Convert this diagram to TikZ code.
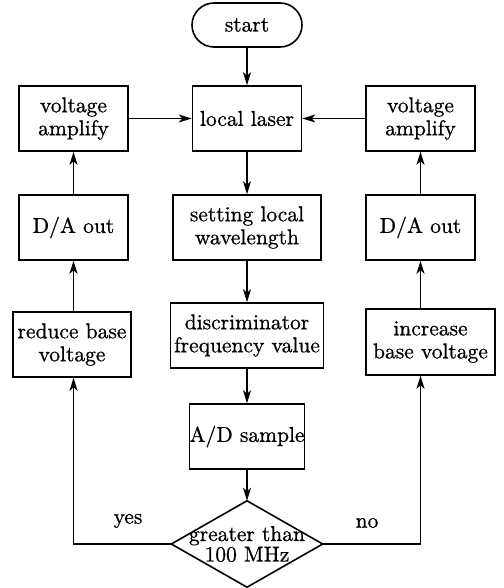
\documentclass[tikz,border=0pt]{standalone}
\usepackage{fontspec}
\newfontfamily\lmten[Extension=.otf,FakeBold=0.8]{lmroman10-regular}
\usetikzlibrary{arrows.meta,calc}
\begin{document}
\begin{tikzpicture}[x=1pt,y=-1pt,
  every node/.style={font=\lmten\fontsize{21.5}{23}\selectfont, align=center, inner sep=0pt},
  box/.style={draw, line width=1.6pt, minimum height=65pt},
  arr/.style={line width=1.5pt, -{Stealth[length=13pt,width=8pt,inset=3.5pt]}},
  ln/.style={line width=1.6pt}
]
\useasboundingbox (0,0) rectangle (503,588);
\node[draw, line width=1.6pt, rounded corners=22pt, minimum width=110pt, minimum height=44pt] (start) at (247,25) {start};
\node[box, minimum width=109pt] (laser) at (247,118.5) {local laser};
\node[box, minimum width=109pt] (lva) at (73.5,118.5) {voltage\\amplify};
\node[box, minimum width=109pt] (rva) at (420.5,118.5) {voltage\\amplify};
\node[box, minimum width=109pt] (lda) at (73.5,227.5) {D/A out};
\node[box, minimum width=148pt] (setw) at (247,227.5) {setting local\\wavelength};
\node[box, minimum width=109pt] (rda) at (420.5,227.5) {D/A out};
\node[box, minimum width=118pt] (reduce) at (72,344.5) {reduce base\\voltage};
\node[box, minimum width=153pt] (disc) at (247,335.5) {discriminator\\frequency value};
\node[box, minimum width=129pt, minimum height=66pt] (incr) at (430.5,342) {increase\\base voltage};
\node[box, minimum width=114pt] (adc) at (247,436.5) {A/D sample};
\node[minimum width=151pt, minimum height=86pt, font=\lmten\fontsize{21.5}{20.5}\selectfont] (dec) at (247,544) {greater than\\100 MHz};
\draw[ln] (dec.north) -- (dec.east) -- (dec.south) -- (dec.west) -- cycle;
\node (yes) at (128,521) {yes};
\node (no) at (367,523) {no};
\draw[arr] (start) -- (laser);
\draw[arr] (lva) -- (laser);
\draw[arr] (rva) -- (laser);
\draw[arr] (laser) -- (setw);
\draw[arr] (setw) -- (disc);
\draw[arr] (disc) -- (adc);
\draw[arr] (adc) -- (dec.north);
\draw[arr] (lda) -- (lva);
\draw[arr] (rda) -- (rva);
\draw[arr] (lda.south |- reduce.north) -- (lda.south);
\draw[arr] (rda.south |- incr.north) -- (rda.south);
\draw[arr] (dec.west) -| (lda.south |- reduce.south);
\draw[arr] (dec.east) -| (rda.south |- incr.south);
\end{tikzpicture}
\end{document}
